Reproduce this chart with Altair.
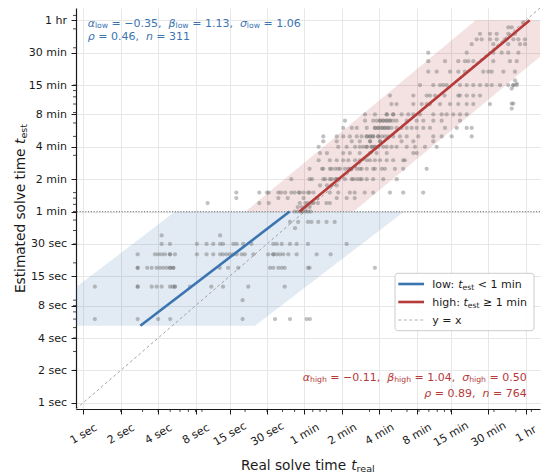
import math
import altair as alt
import pandas as pd

# ---------------- values ----------------
tick_secs = [1, 2, 4, 8, 15, 30, 60, 120, 240, 480, 900, 1800, 3600]
axis_lim = [0.875, 4690]

# estimated time (s) -> real solve times (s), tasks estimated under one minute
low_rows = {
    6: [1.24, 2.74, 4.0, 5.0, 19.1, 34.8, 45.9, 62.5, 66.4],
    9: [19.1],
    12: [1.24, 2.74, 2.74, 3.55, 3.89, 4.27, 4.98, 5.23, 5.45, 5.45, 7.2, 10.7, 13.3, 21.2, 41.6],
    18: [2.74, 2.74, 3.27, 3.55, 3.89, 4.14, 4.4, 4.68, 4.98, 5.0, 5.3, 5.3, 12.5, 14.6, 17.6,
         31.7, 33.7, 37.0, 39.4, 41.6, 64.0, 66.0, 221],
    24: [2.74, 3.77, 4.01, 4.27, 4.54, 4.98, 4.98, 5.46, 8.2, 9.8, 11.1, 12.6, 13.3, 14.2, 15.1,
         16.1, 17.1, 18.8, 19.9, 23.3, 30.7, 33.7, 33.7, 35.9, 38.1, 40.5, 44.5, 51.9, 75.2, 97.4],
    30: [4.27, 4.98, 8.2, 9.8, 11.1, 12.6, 13.3, 16.1, 17.1, 19.3, 22.5, 33.7, 35.9, 39.4, 45.9,
         51.9, 64.0, 131],
    36: [4.27, 12.6],
    42: [50.4],
    48: [45.9, 53.4, 64.0, 68.3, 77.5, 90.3, 105],
}

# estimated time (s) -> real solve times (s), tasks estimated at one minute or more
high_rows = {
    60: [50, 53, 56, 58, 61, 64, 67],
    66: [53, 57, 61, 66],
    72: [10, 26, 31, 55, 61, 64, 68, 71, 77, 90, 96],
    80: [17, 37, 44, 59, 76, 109, 131, 152],
    90: [17, 26, 30, 31, 37, 39, 42, 47, 50, 54, 55, 59, 64, 66, 71, 96, 112, 139, 152, 183,
         214, 292, 373, 540],
    105: [80, 91, 99, 109],
    120: [47, 66, 69, 85, 88, 96, 99, 106, 109, 112, 127, 144, 148, 158, 167, 173, 190, 214,
          258, 331],
    150: [66, 83, 85, 96, 99, 106, 112, 116, 127, 135, 139, 144, 158, 167, 173, 190, 214, 221,
          251, 266, 320, 373, 576],
    180: [78, 96, 109, 123, 135, 153, 167, 190, 202, 221, 243, 275, 310, 373, 385],
    210: [80, 91, 123, 139, 167, 202, 228, 275, 450, 479],
    240: [78, 112, 131, 153, 167, 178, 190, 190, 208, 208, 221, 221, 235, 258, 275, 301, 330,
          398, 464, 558, 693],
    270: [85, 109, 144, 167, 202, 202, 243, 243, 362, 450, 651],
    300: [85, 109, 123, 139, 158, 173, 190, 190, 202, 202, 214, 214, 235, 235, 251, 266, 283,
          310, 351, 398, 493, 651, 760, 915, 1325],
    360: [123, 144, 158, 190, 221, 221, 235, 235, 251, 251, 266, 266, 283, 283, 301, 330, 362,
          398, 436, 479, 541, 612, 809, 1005, 1208, 1325],
    420: [127, 184, 214, 228, 243, 243, 258, 258, 275, 275, 292, 292, 310, 330, 398, 479, 541,
          651, 760, 1067],
    480: [184, 221, 275, 275, 310, 310, 362, 410, 450, 509, 651, 760, 834, 942, 1067, 1208],
    600: [300, 330, 450, 525, 576, 612, 737, 887, 1034, 1208, 1365, 1859],
    720: [292, 450, 576, 612, 672, 802, 1034, 1067, 1208, 1365, 1545],
    900: [509, 651, 737, 783, 834, 1067, 1208, 1365, 1545, 1750, 1919, 2238, 2607, 2863, 3050],
    1200: [593, 693, 887, 1034, 1169, 1642, 1803, 1919, 2383, 2952],
    1500: [593, 809, 1034, 1169, 1244, 1365, 1977, 2692, 3050],
    1800: [593, 1208, 1977, 2308, 2607, 3141],
    2160: [1325, 1977, 2607, 3238, 3555],
    2400: [1453, 1594, 1859, 2104, 2455, 2863, 3141, 3555],
    2700: [1545, 1859, 2104, 2607, 2952],
    3100: [2607, 2779],
    3450: [3443],
}
# long real runs that were estimated at 9-17 minutes
high_extra_real = [2952, 2862, 2779, 3048, 2779, 2862, 2779]
high_extra_est = [998, 895, 836, 930, 606, 606, 545]

# fitted models: log10(t_real) = alpha + beta * log10(t_est), band = +/- 2 sigma (natural log)
fits = {
    "low": dict(alpha=-0.35, beta=1.13, sigma=1.06, rho=0.46, n=311, est_span=[5.2, 60]),
    "high": dict(alpha=-0.11, beta=1.04, sigma=0.50, rho=0.89, n=764, est_span=[60, 3600]),
}

BLUE = "#3b75b0"
RED = "#b53a3a"
INK = "#1a1a1a"
FONT = "DejaVu Sans"

W, H = 464, 401

# ---------------- tables ----------------
def rows_frame(rows):
    recs = [(r, e) for e, reals in rows.items() for r in reals]
    return pd.DataFrame(recs, columns=["real", "est"])

points = pd.concat([
    rows_frame(low_rows),
    rows_frame(high_rows),
    pd.DataFrame({"real": high_extra_real, "est": high_extra_est}),
], ignore_index=True)


def fit_tables(p):
    half = 2 * p["sigma"] / math.log(10)
    line, band = [], []
    for e in p["est_span"]:
        c = p["alpha"] + p["beta"] * math.log10(e)
        line.append({"est": e, "real": 10 ** c})
        band.append({"est": e, "lo": 10 ** (c - half), "hi": 10 ** (c + half)})
    return pd.DataFrame(line), pd.DataFrame(band)


xs = alt.Scale(type="log", domain=axis_lim, nice=False, zero=False)
ys = alt.Scale(type="log", domain=axis_lim, nice=False, zero=False)

label_expr = ("datum.value < 60 ? datum.value + ' sec' : "
              "(datum.value < 3600 ? (datum.value / 60) + ' min' : '1 hr')")
axis_common = dict(values=tick_secs, labelExpr=label_expr, title=None, grid=True,
                   gridColor="#e7e7e7", gridWidth=1, tickSize=5, tickWidth=1,
                   tickColor=INK, domainColor=INK, domainWidth=1.2, labelFont=FONT,
                   labelFontSize=11, labelColor=INK, labelOverlap=False, labelFlush=False)
x_axis = alt.Axis(labelAngle=330, labelAlign="center", labelBaseline="middle",
                  labelPadding=20, **axis_common)
y_axis = alt.Axis(labelPadding=4.5, **axis_common)


def X(field):
    return alt.X(field, type="quantitative", scale=xs, axis=x_axis)


def Y(field):
    return alt.Y(field, type="quantitative", scale=ys, axis=y_axis)


layers = []

# shaded +/- 2 sigma bands
for name, color in (("low", BLUE), ("high", RED)):
    _, band = fit_tables(fits[name])
    layers.append(
        alt.Chart(band).mark_area(orient="horizontal", color=color, opacity=0.15, clip=True)
        .encode(y=Y("est"), x=X("lo"), x2="hi:Q")
    )

# y = x reference
diag = pd.DataFrame({"v": axis_lim})
layers.append(
    alt.Chart(diag).mark_line(color="#9a9a9a", strokeWidth=0.9, strokeDash=[3, 2.5], clip=True)
    .encode(x=X("v"), y=Y("v"))
)

# one-minute split
layers.append(
    alt.Chart(pd.DataFrame({"est": [60]})).mark_rule(color="#8c8c8c", strokeWidth=1.2,
                                                       strokeDash=[1.2, 1.6])
    .encode(y=Y("est"))
)

# scatter of tasks
layers.append(
    alt.Chart(points).mark_circle(size=18, color="#6b6b6b", opacity=0.42, clip=True)
    .encode(x=X("real"), y=Y("est"))
)

# regression lines
for name, color in (("low", BLUE), ("high", RED)):
    line, _ = fit_tables(fits[name])
    layers.append(
        alt.Chart(line).mark_line(color=color, strokeWidth=2.6, clip=True)
        .encode(x=X("real"), y=Y("est"))
    )

# minor log ticks
minor = pd.DataFrame({"v": [m * 10 ** k for k in range(4) for m in range(2, 10)
                            if m * 10 ** k < axis_lim[1]]})
layers.append(
    alt.Chart(minor).mark_rule(color=INK, strokeWidth=0.8)
    .encode(x=X("v"), y=alt.value(H), y2=alt.value(H + 3))
)
layers.append(
    alt.Chart(minor).mark_rule(color=INK, strokeWidth=0.8)
    .encode(y=Y("v"), x=alt.value(-3), x2=alt.value(0))
)

# legend frame and handles
one = pd.DataFrame({"k": [0]})
layers.append(
    alt.Chart(one).mark_rect(fill="white", fillOpacity=0.85, stroke="#cccccc", strokeWidth=1,
                             cornerRadius=3)
    .encode(x=alt.value(319), x2=alt.value(458), y=alt.value(265.3), y2=alt.value(322.7))
)
for yy, color, width, dash in ((276, BLUE, 2.6, None), (294, RED, 2.6, None),
                               (312, "#a8a8a8", 0.9, [3, 2.5])):
    kw = dict(color=color, strokeWidth=width)
    if dash:
        kw["strokeDash"] = dash
    layers.append(
        alt.Chart(one).mark_rule(**kw)
        .encode(x=alt.value(322.3), x2=alt.value(348), y=alt.value(yy))
    )

# ---------------- text with math-style subscripts ----------------
ADV = {c: 0.636 for c in "0123456789"}
ADV.update({".": .318, ",": .318, " ": .318, "=": .838, "\u2212": .838, "<": .838,
            "\u2265": .838, ":": .337, "\u03b1": .659, "\u03b2": .638, "\u03c3": .634,
            "\u03c1": .635, "n": .634, "t": .392, "e": .615, "s": .521, "l": .278, "o": .612,
            "w": .818, "h": .634, "i": .278, "g": .635, "m": .974, "y": .592, "x": .592,
            "r": .411, "a": .613, "E": .632, "d": .635, "v": .592, "R": .695})


def seg_width(txt, size):
    return sum(ADV.get(c, 0.6) for c in txt) * size


def lay(segs, x0, y0, size, color, anchor="start", angle=0):
    sub = size * 0.7
    drop = size * 0.16
    widths = [seg_width(t, sub if k == "s" else size) for t, k in segs]
    total = sum(widths)
    pos = {"start": 0, "middle": -total / 2, "end": -total}[anchor]
    out = []
    for (t, k), w in zip(segs, widths):
        fs = sub if k == "s" else size
        body = t.strip(" ")
        lead = seg_width(t[: len(t) - len(t.lstrip(" "))], fs)
        d = drop if k == "s" else 0
        p = pos + lead
        if angle == 0:
            x, y = x0 + p, y0 + d
        else:
            x, y = x0 + d, y0 - p
        if body:
            out.append({"x": x, "y": y, "text": body.replace(" ", "\u00a0"),
                        "size": fs, "italic": k == "i", "color": color, "angle": angle})
        pos += w
    return out


def stats_lines(tag, p):
    a, b, s = (f"{v:.2f}".replace("-", "\u2212") for v in (p["alpha"], p["beta"], p["sigma"]))
    first = [("\u03b1", "i"), (tag, "s"), (f" = {a},  ", "n"), ("\u03b2", "i"), (tag, "s"),
             (f" = {b},  ", "n"), ("\u03c3", "i"), (tag, "s"), (f" = {s}", "n")]
    second = [("\u03c1", "i"), (f" = {p['rho']:.2f},  ", "n"), ("n", "i"), (f" = {p['n']}", "n")]
    return first, second


texts = []
l1, l2 = stats_lines("low", fits["low"])
texts += lay(l1, 11.7, 18.5, 11, BLUE)
texts += lay(l2, 11.7, 32.3, 11, BLUE)
h1, h2 = stats_lines("high", fits["high"])
texts += lay(h1, 450.7, 372.7, 11, RED, anchor="end")
texts += lay(h2, 450.7, 388.9, 11, RED, anchor="end")

texts += lay([("low: ", "n"), ("t", "i"), ("est", "s"), (" < 1 min", "n")], 356.3, 280, 11, INK)
texts += lay([("high: ", "n"), ("t", "i"), ("est", "s"), (" \u2265 1 min", "n")], 356.3, 298, 11, INK)
texts += lay([("y = x", "n")], 356.3, 316, 11, INK)

texts += lay([("Real solve time ", "n"), ("t", "i"), ("real", "s")], W / 2, 462, 13.7, INK,
             anchor="middle")
texts += lay([("Estimated solve time ", "n"), ("t", "i"), ("est", "s")], -51, H / 2, 13.7, INK,
             anchor="middle", angle=270)

text_df = pd.DataFrame(texts)
text_base = alt.Chart(text_df).encode(
    x=alt.X("x:Q", scale=None, axis=None),
    y=alt.Y("y:Q", scale=None, axis=None),
    text="text:N",
    size=alt.Size("size:Q", scale=None, legend=None),
    color=alt.Color("color:N", scale=None, legend=None),
    angle=alt.Angle("angle:Q", scale=None, legend=None),
)
layers.append(text_base.transform_filter("!datum.italic")
              .mark_text(align="left", baseline="alphabetic", font=FONT))
layers.append(text_base.transform_filter("datum.italic")
              .mark_text(align="left", baseline="alphabetic", font=FONT, fontStyle="italic"))

chart = (
    alt.layer(*layers)
    .properties(width=W, height=H, background="white",
                padding={"left": 76, "top": 8, "right": 7, "bottom": 65},
                autosize=alt.AutoSizeParams(type="none"))
    .configure_view(stroke=None)
)

chart.save("out.html", embed_options={"renderer": "svg", "actions": False})
